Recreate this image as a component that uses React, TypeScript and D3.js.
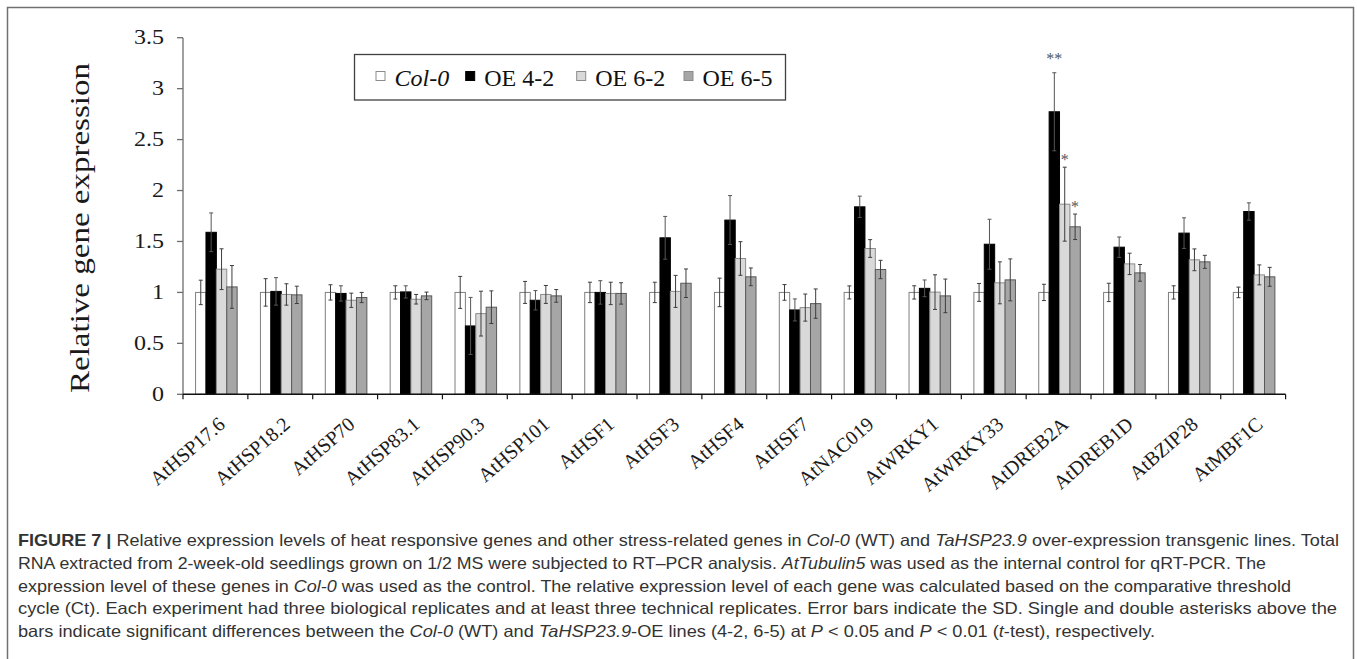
import * as d3 from 'd3';

const W = 1357;
const H = 659;

const genes = [
  'AtHSP17.6', 'AtHSP18.2', 'AtHSP70', 'AtHSP83.1', 'AtHSP90.3', 'AtHSP101', 'AtHSF1', 'AtHSF3', 'AtHSF4',
  'AtHSF7', 'AtNAC019', 'AtWRKY1', 'AtWRKY33', 'AtDREB2A', 'AtDREB1D', 'AtBZIP28', 'AtMBF1C',
];

const seriesNames = ['Col-0', 'OE 4-2', 'OE 6-2', 'OE 6-5'];

const col0 = [1, 1, 1, 1, 1, 1, 1, 1, 1, 1, 1, 1, 1, 1, 1, 1, 1];
const col0Err = [0.12, 0.135, 0.075, 0.065, 0.157, 0.108, 0.1, 0.1, 0.14, 0.077, 0.064, 0.065, 0.088, 0.08, 0.09, 0.065, 0.052];
const oe42 = [1.59, 1.01, 0.99, 1.005, 0.671, 0.923, 1.0, 1.536, 1.71, 0.828, 1.84, 1.04, 1.473, 2.773, 1.444, 1.582, 1.794];
const oe42Err = [0.19, 0.135, 0.075, 0.06, 0.28, 0.095, 0.115, 0.21, 0.24, 0.108, 0.105, 0.082, 0.245, 0.383, 0.1, 0.15, 0.085];
const oe62 = [1.228, 0.98, 0.923, 0.933, 0.792, 0.98, 0.99, 1.01, 1.333, 0.851, 1.431, 1.003, 1.094, 1.866, 1.28, 1.32, 1.172];
const oe62Err = [0.2, 0.105, 0.07, 0.047, 0.22, 0.088, 0.11, 0.157, 0.165, 0.133, 0.087, 0.17, 0.206, 0.363, 0.105, 0.107, 0.098];
const oe65 = [1.054, 0.976, 0.95, 0.966, 0.855, 0.966, 0.99, 1.09, 1.153, 0.89, 1.225, 0.966, 1.123, 1.644, 1.192, 1.3, 1.153];
const oe65Err = [0.21, 0.085, 0.05, 0.037, 0.16, 0.062, 0.105, 0.14, 0.087, 0.144, 0.09, 0.165, 0.206, 0.125, 0.082, 0.064, 0.093];

// significance marks: gene, series index, label
const sigGenes = ['AtDREB2A', 'AtDREB2A', 'AtDREB2A'];
const sigSeries = [1, 2, 3];
const sigLabels = ['**', '*', '*'];

const yTicks = [0, 0.5, 1, 1.5, 2, 2.5, 3, 3.5];

const captionLines = [
  [['b', 'FIGURE 7 | '], ['n', 'Relative expression levels of heat responsive genes and other stress-related genes in '], ['i', 'Col-0'], ['n', ' (WT) and '], ['i', 'TaHSP23.9'], ['n', ' over-expression transgenic lines. Total']],
  [['n', 'RNA extracted from 2-week-old seedlings grown on 1/2 MS were subjected to RT\u2013PCR analysis. '], ['i', 'AtTubulin5'], ['n', ' was used as the internal control for qRT-PCR. The']],
  [['n', 'expression level of these genes in '], ['i', 'Col-0'], ['n', ' was used as the control. The relative expression level of each gene was calculated based on the comparative threshold']],
  [['n', 'cycle (Ct). Each experiment had three biological replicates and at least three technical replicates. Error bars indicate the SD. Single and double asterisks above the']],
  [['n', 'bars indicate significant differences between the '], ['i', 'Col-0'], ['n', ' (WT) and '], ['i', 'TaHSP23.9'], ['n', '-OE lines (4-2, 6-5) at '], ['i', 'P'], ['n', ' < 0.05 and '], ['i', 'P'], ['n', ' < 0.01 ('], ['i', 't'], ['n', '-test), respectively.']],
];
const captionEnds = [1339, 1266, 1291, 1337, 1155];

const MARGIN = { top: 37.7, right: 71.4, bottom: 264.7, left: 183 };
const FILLS = ['#ffffff', '#000000', '#d9d9d9', '#a6a6a6'];
const STROKES = ['#7f7f7f', '#000000', '#8c8c8c', '#595959'];
const SERIF = '"Liberation Serif", "Times New Roman", serif';
const SANS = '"Liberation Sans", Arial, sans-serif';

const App = () => {
  const values = [col0, oe42, oe62, oe65];
  const errors = [col0Err, oe42Err, oe62Err, oe65Err];

  const x0 = d3.scaleBand().domain(genes).range([MARGIN.left, W - MARGIN.right]).paddingInner(0).paddingOuter(0);
  const x1 = d3.scaleBand().domain(seriesNames).range([0, x0.bandwidth()]).paddingOuter(1.12).align(0.54);
  const y = d3.scaleLinear().domain([0, 3.5]).range([H - MARGIN.bottom, MARGIN.top]);
  const y0 = y(0);
  const axisColor = '#6e6e6e';

  const bars = [];
  const errs = [];
  genes.forEach((g, i) => {
    seriesNames.forEach((s, k) => {
      const v = values[k][i];
      const e = errors[k][i];
      const bx = x0(g) + x1(s);
      const bw = x1.bandwidth();
      bars.push(
        <rect key={`bar-${g}-${s}`} x={bx} y={y(v)} width={bw} height={y0 - y(v)}
          fill={FILLS[k]} stroke={STROKES[k]} strokeWidth={1} />
      );
      const cx = bx + bw / 2;
      const top = y(v + e);
      const bot = y(v - e);
      errs.push(
        <g key={`err-${g}-${s}`} stroke={k === 1 ? '#555' : '#3d3d3d'} strokeWidth={1}>
          <line x1={cx} x2={cx} y1={top} y2={bot} />
          <line x1={cx - 2} x2={cx + 2} y1={top} y2={top} />
          <line x1={cx - 2} x2={cx + 2} y1={bot} y2={bot} />
        </g>
      );
    });
  });

  const sigs = sigGenes.map((g, j) => {
    const k = sigSeries[j];
    const i = genes.indexOf(g);
    const s = seriesNames[k];
    const cx = x0(g) + x1(s) + x1.bandwidth() / 2;
    const top = y(values[k][i] + errors[k][i]);
    const lift = sigLabels[j].length > 1 ? 9 : 2;
    return (
      <text key={`sig-${j}`} x={cx} y={top - lift} textAnchor="middle" fontFamily={SERIF} fontSize={16} fill="#4f5761">
        {sigLabels[j]}
      </text>
    );
  });

  const legendX = [376, 465.7, 576.7, 684];

  return (
    <svg width={W} height={H} style={{ position: 'absolute', left: 0, top: 0, display: 'block', background: '#fff' }}>
      {/* figure frame */}
      <path d={`M7.5,${H + 5} V7.5 H1353.5 V${H + 5}`} fill="none" stroke="#707070" strokeWidth={1.5} />

      {/* y axis */}
      <line x1={MARGIN.left} x2={MARGIN.left} y1={y(3.5)} y2={y0} stroke={axisColor} strokeWidth={1.3} />
      {yTicks.map(t => (
        <g key={`yt-${t}`}>
          <line x1={MARGIN.left - 6} x2={MARGIN.left} y1={y(t)} y2={y(t)} stroke={axisColor} strokeWidth={1.3} />
          <g transform={`translate(164,${y(t) + 6.5}) scale(1.2,1)`}>
            <text x={0} y={0} textAnchor="end" fontFamily={SERIF} fontSize={20} fill="#1a1a1a">
              {d3.format('')(t)}
            </text>
          </g>
        </g>
      ))}
      <text transform={`translate(89,228) rotate(-90)`} textAnchor="middle"
        fontFamily={SERIF} fontSize={28} textLength={330} lengthAdjust="spacingAndGlyphs" fill="#1a1a1a">
        Relative gene expression
      </text>

      {bars}
      {errs}
      {sigs}

      {/* x axis */}
      <line x1={MARGIN.left} x2={W - MARGIN.right} y1={y0} y2={y0} stroke="#111" strokeWidth={1.5} />
      {genes.map(g => (
        <line key={`xt-${g}`} x1={x0(g)} x2={x0(g)} y1={y0} y2={y0 + 5} stroke="#111" strokeWidth={1.2} />
      ))}
      <line x1={W - MARGIN.right} x2={W - MARGIN.right} y1={y0} y2={y0 + 5} stroke="#111" strokeWidth={1.2} />
      {genes.map(g => {
        const cx = x0(g) + x0.bandwidth() / 2;
        return (
          <text key={`xl-${g}`} transform={`translate(${cx + 11},${y0 + 32}) rotate(-41)`} textAnchor="end"
            fontFamily={SERIF} fontSize={20} fill="#1a1a1a">
            {g}
          </text>
        );
      })}

      {/* legend */}
      <rect x={354.5} y={54.5} width={431} height={45.5} fill="#fff" stroke="#404040" strokeWidth={1.3} />
      {seriesNames.map((s, k) => (
        <g key={`lg-${s}`}>
          <rect x={legendX[k]} y={71.5} width={9} height={9} fill={FILLS[k]} stroke={k === 1 ? '#000' : '#8c8c8c'} strokeWidth={1} />
          <text x={legendX[k] + 18.5} y={85.7} fontFamily={SERIF} fontSize={24} fontStyle={k === 0 ? 'italic' : 'normal'} fill="#111">
            {s}
          </text>
        </g>
      ))}

      {/* caption */}
      {captionLines.map((line, li) => (
        <text key={`cap-${li}`} x={18} y={546 + li * 22.8} fontFamily={SANS} fontSize={16.5} fill="#333"
          textLength={captionEnds[li] - 18} lengthAdjust="spacingAndGlyphs">
          {line.map(([kind, str], si) => (
            <tspan key={si} fontWeight={kind === 'b' ? 'bold' : 'normal'} fontStyle={kind === 'i' ? 'italic' : 'normal'}>
              {str}
            </tspan>
          ))}
        </text>
      ))}
    </svg>
  );
};

export default App;
